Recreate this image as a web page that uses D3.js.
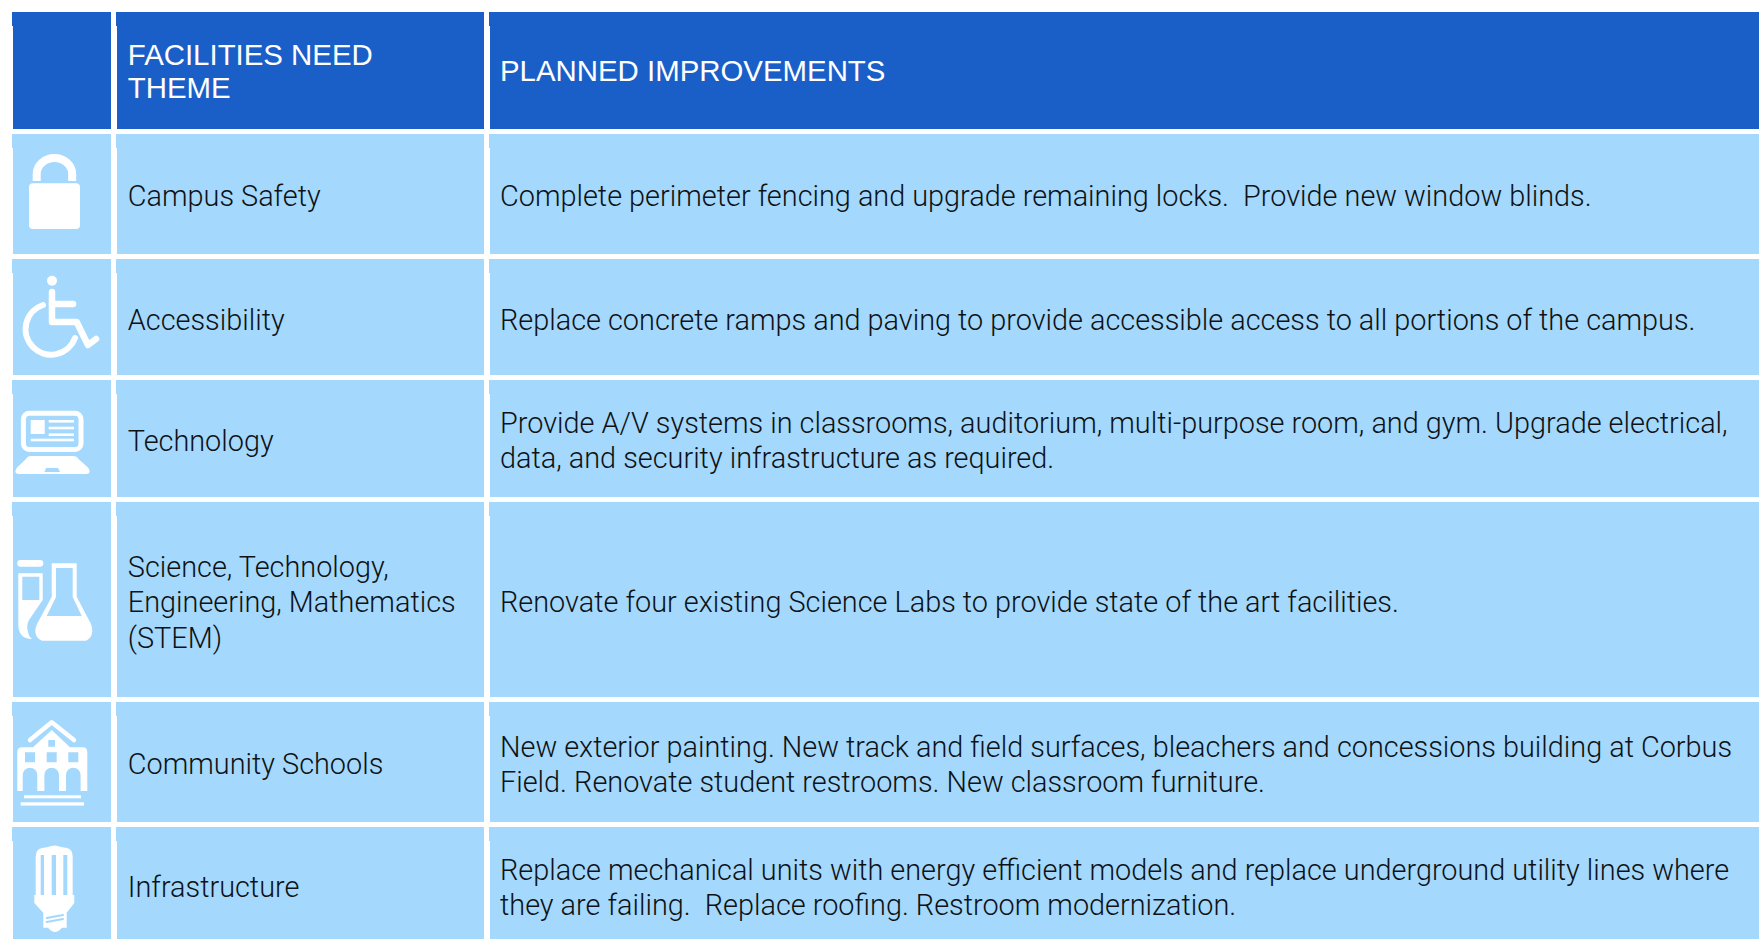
<!DOCTYPE html>
<html>
<head>
<meta charset="utf-8">
<script src="https://cdn.jsdelivr.net/npm/d3@7"></script>
<style>
html, body { margin: 0; padding: 0; background: #fff; overflow: hidden; }
svg { display: block; }
text { font-family: Roboto, "Liberation Sans", sans-serif; font-weight: 300; font-size: 28.85px; fill: #0e1215; }
text.head { fill: #fff; font-family: "Liberation Sans", Arial, sans-serif; font-weight: 400; font-size: 29.4px; }
</style>
</head>
<body>
<svg id="table"></svg>
<script>
const headers = [[''], ['FACILITIES NEED', 'THEME'], ['PLANNED IMPROVEMENTS']]
const themes = [
    ['Campus Safety'],
    ['Accessibility'],
    ['Technology'],
    ['Science, Technology,', 'Engineering, Mathematics', '(STEM)'],
    ['Community Schools'],
    ['Infrastructure']
]
const improvements = [
    ['Complete perimeter fencing and upgrade remaining locks.\u00a0 Provide new window blinds.'],
    ['Replace concrete ramps and paving to provide accessible access to all portions of the campus.'],
    ['Provide A/V systems in classrooms, auditorium, multi-purpose room, and gym. Upgrade electrical,', 'data, and security infrastructure as required.'],
    ['Renovate four existing Science Labs to provide state of the art facilities.'],
    ['New exterior painting. New track and field surfaces, bleachers and concessions building at Corbus', 'Field. Renovate student restrooms. New classroom furniture.'],
    ['Replace mechanical units with energy efficient models and replace underground utility lines where', 'they are failing.\u00a0 Replace roofing. Restroom modernization.']
]

const width = 1759
const height = 939
const colX = [[13, 111], [117, 484], [490, 1759]]
const rowY = [[12, 129], [134, 254], [259, 375], [380, 497], [502, 697], [702, 822], [827, 939]]
const rowDy = [10.8, 11.5, 12.5, 12.2, 12.7, 12.2, 14.3]
const textPad = [0, 10.8, 10]
const blue = '#a4d8fd'

const svg = d3.select('#table').attr('width', width).attr('height', height)

let rows = [headers].concat(themes.map((t, i) => [[''], t, improvements[i]]))

rows.forEach((row, r) => {
    row.forEach((lines, c) => {
        let g = svg.append('g')
        g.append('rect')
            .attr('x', colX[c][0]).attr('y', rowY[r][0])
            .attr('width', colX[c][1] - colX[c][0]).attr('height', rowY[r][1] - rowY[r][0])
            .attr('fill', r ? blue : '#1a5ec7')
        // small notch at the top left of each cell
        g.append('rect')
            .attr('x', colX[c][0] - 1).attr('y', rowY[r][0])
            .attr('width', 1).attr('height', 14)
            .attr('fill', r ? blue : '#1a5ec7')
        let mid = (rowY[r][0] + rowY[r][1]) / 2
        let step = r ? 35.3 : 32.8
        g.selectAll('text').data(lines).join('text')
            .attr('class', r ? 'body' : 'head')
            .attr('x', colX[c][0] + textPad[c])
            .attr('y', (d, i) => mid + (i - (lines.length - 1) / 2) * step + rowDy[r])
            .text(d => d)
    })
})

// icons, y is measured from the top of the row they sit in
function iconGroup(r) {
    return svg.append('g').attr('transform', `translate(0,${rowY[r][0]})`)
}
function fillPath(g, d, fill) {
    return g.append('path').attr('d', d).attr('fill', fill || '#fff').attr('fill-rule', 'evenodd')
}
function strokePath(g, d, w, stroke) {
    return g.append('path').attr('d', d).attr('fill', 'none')
        .attr('stroke', stroke || '#fff').attr('stroke-width', w)
        .attr('stroke-linecap', 'round').attr('stroke-linejoin', 'round')
}

// lock
let lock = iconGroup(1)
lock.append('rect').attr('x', 29).attr('y', 49.3).attr('width', 51).attr('height', 45.7).attr('rx', 4).attr('fill', '#fff')
strokePath(lock, 'M36.7 47V40A17.7 16 0 0 1 72.2 40V47', 8).attr('stroke-linecap', 'butt')

// wheelchair
let chair = iconGroup(2)
chair.append('circle').attr('cx', 52).attr('cy', 21.7).attr('r', 5).attr('fill', '#fff')
strokePath(chair, 'M52 33V63H76.7L88 86L96 80', 6.5)
strokePath(chair, 'M52 45H73', 6.5)
strokePath(chair, 'M43 46A25.5 25.5 0 1 0 75 79', 6)

// laptop
let laptop = iconGroup(3)
laptop.append('rect').attr('x', 23.4).attr('y', 33.2).attr('width', 57.6).attr('height', 36.2).attr('rx', 6)
    .attr('fill', 'none').attr('stroke', '#fff').attr('stroke-width', 5)
laptop.append('rect').attr('x', 30.7).attr('y', 40).attr('width', 14).attr('height', 14).attr('fill', '#fff')
;[41.3, 48, 54.7].forEach(y => laptop.append('rect').attr('x', 48.7).attr('y', y - 1.3).attr('width', 25.3).attr('height', 2.6).attr('fill', '#fff'))
laptop.append('rect').attr('x', 30.7).attr('y', 58.7).attr('width', 43.3).attr('height', 2.6).attr('fill', '#fff')
fillPath(laptop, 'M31 76H73Q77 76 78.5 79L88 87.5Q92.5 94 86 94H19Q12.5 94 17 87.5L26 79Q27.5 76 31 76Z')
fillPath(laptop, 'M46 88H58L60 92H44.5Z', blue)

// flask and test tube
let flask = iconGroup(4)
flask.append('rect').attr('x', 17.3).attr('y', 58).attr('width', 26).attr('height', 6.7).attr('rx', 3.3).attr('fill', '#fff')
fillPath(flask, 'M18.3 71.3H42.7V98L29 118Q26 124 28 130Q29 135 32 137Q18.3 137 18.3 122ZM22.3 74.7V98H39.3V74.7Z')
fillPath(flask, 'M51.7 61.3H76.7V94.7L91 122Q95 134 86 138.7H42Q32 134 37 122L51.7 94.7ZM56 66V95L46.7 114H81.7L72.7 95V66Z')

// community school
let school = iconGroup(5)
strokePath(school, 'M30 38L51.7 20.3L74 38', 4.5)
fillPath(school, 'M51.7 28L70 45.3H83Q87.3 45.3 87.3 50V89H80.6V73A7.3 7.3 0 0 0 66 73V89H59V73A7.3 7.3 0 0 0 44.4 73V89H37.3V73A7.3 7.3 0 0 0 22.7 73V89H17.3V50Q17.3 45.3 22 45.3H33ZM48.3 38V44.7H55V38ZM25 50.3V60.3H35V50.3ZM46.7 50.3V60.3H56.7V50.3ZM68.3 50.3V60.3H78.3V50.3Z')
school.append('rect').attr('x', 24).attr('y', 93.3).attr('width', 57).attr('height', 3).attr('fill', '#fff')
school.append('rect').attr('x', 20.7).attr('y', 100.3).attr('width', 63.3).attr('height', 3.3).attr('fill', '#fff')

// light bulb
let bulb = iconGroup(6)
fillPath(bulb, 'M35.7 68V30Q35.7 22 42 21Q46 20.5 48 20Q51 18.5 54.5 18.5Q58 18.5 61 20Q64 20.5 67 21Q72.7 22 72.7 30V68H74.3V76L66.7 85.7V100.7H62Q58 105 55 105Q52 105 48 100.7H43.3V85.7L34.3 76V68ZM40.7 28V68H44V28ZM51.7 28V68H56V28ZM63.3 28V68H67.3V28Z')
strokePath(bulb, 'M46.7 91L63 88', 2, blue)
strokePath(bulb, 'M46.7 95L63 92', 2, blue)
</script>
</body>
</html>
